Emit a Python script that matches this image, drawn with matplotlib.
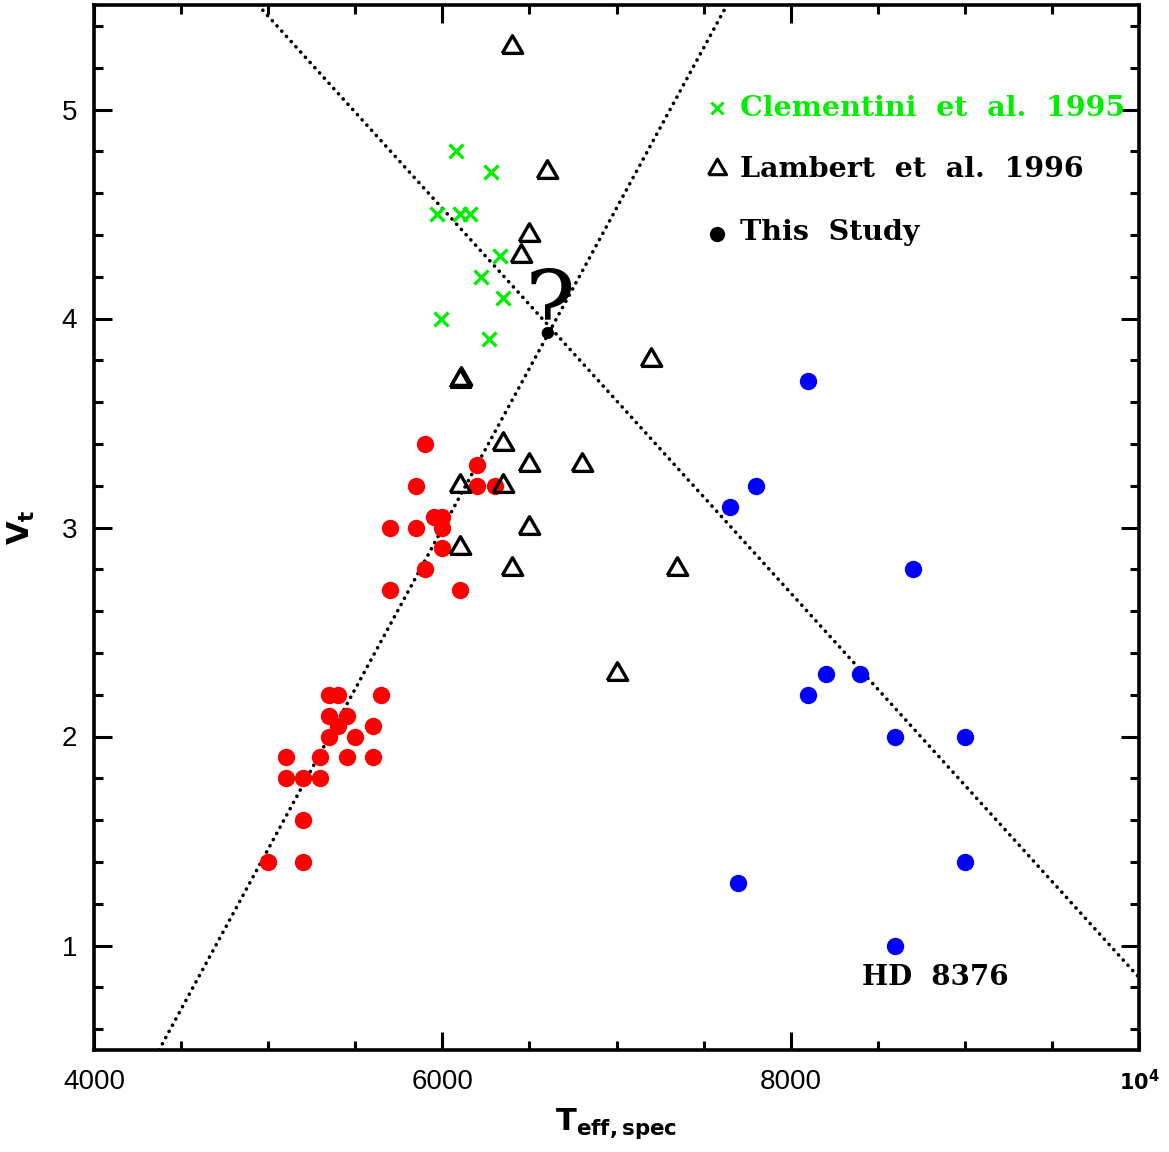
import numpy as np
import matplotlib
matplotlib.use('Agg')
import matplotlib.pyplot as plt
from matplotlib.ticker import MultipleLocator, FixedLocator

# Clementini et al. 1995 (green crosses)
clem_teff = [6080, 6280, 5970, 6100, 6160, 6330, 6220, 6350, 5990, 6270]
clem_vt = [4.8, 4.7, 4.5, 4.5, 4.5, 4.3, 4.2, 4.1, 4.0, 3.9]

# Lambert et al. 1996 (open triangles)
lamb_teff = [6400, 6600, 6500, 6450, 6100, 6110, 7200, 6350, 6500, 6800, 6350,
             6100, 6500, 6100, 6400, 7350, 7000]
lamb_vt = [5.3, 4.7, 4.4, 4.3, 3.7, 3.71, 3.8, 3.4, 3.3, 3.3, 3.2,
           3.2, 3.0, 2.9, 2.8, 2.8, 2.3]

# this study, cool stars (red)
red_teff = [5900, 6200, 5850, 6200, 6300, 5950, 6000, 5700, 5850, 6000, 6000,
            5900, 5700, 6100,
            5350, 5400, 5650, 5350, 5450, 5400, 5600, 5350, 5500,
            5100, 5300, 5450, 5600, 5100, 5200, 5300, 5200, 5000, 5200]
red_vt = [3.4, 3.3, 3.2, 3.2, 3.2, 3.05, 3.05, 3.0, 3.0, 3.0, 2.9,
          2.8, 2.7, 2.7,
          2.2, 2.2, 2.2, 2.1, 2.1, 2.05, 2.05, 2.0, 2.0,
          1.9, 1.9, 1.9, 1.9, 1.8, 1.8, 1.8, 1.6, 1.4, 1.4]

# this study, hot stars (blue)
blue_teff = [8100, 7800, 7650, 8700, 8200, 8400, 8100, 8600, 9000, 9000, 7700, 8600]
blue_vt = [3.7, 3.2, 3.1, 2.8, 2.3, 2.3, 2.2, 2.0, 2.0, 1.4, 1.3, 1.0]

# dotted trend lines (end points)
rise_teff = [4373, 7634]
rise_vt = [0.5, 5.5]
fall_teff = [4942, 10000]
fall_vt = [5.5, 0.847]

fig = plt.figure(figsize=(11.69, 11.52), dpi=100)
ax = fig.add_axes([94/1169, 1-1050/1152, 1045/1169, 1045/1152])

dots = (0, (0.05, 1.9))
ax.plot(rise_teff, rise_vt, color='black', lw=2.6, linestyle=dots,
        dash_capstyle='round', zorder=1)
ax.plot(fall_teff, fall_vt, color='black', lw=2.6, linestyle=dots,
        dash_capstyle='round', zorder=1)

tri = [(-1, -0.577), (1, -0.577), (0, 1.155), (-1, -0.577)]

ax.plot(red_teff, red_vt, 'o', color='#ff0000', ms=12.5, mew=0, zorder=2)
ax.plot(blue_teff, blue_vt, 'o', color='#0000ff', ms=12.5, mew=0, zorder=2)
ax.plot(lamb_teff, lamb_vt, linestyle='none', marker=tri, ms=17, mfc='none',
        mec='black', mew=2.4, zorder=3)
ax.plot(clem_teff, clem_vt, 'x', color='#00ee00', ms=10.5, mew=2.4, zorder=3)

ax.set_xlim(4000, 10000)
ax.set_ylim(0.5, 5.5)

# legend drawn by hand
serif = 'DejaVu Serif'
ax.plot([0.596], [0.901], 'x', color='#00ee00', ms=9, mew=2.2, transform=ax.transAxes)
ax.plot([0.596], [0.843], linestyle='none', marker=tri, ms=15, mfc='none', mec='black',
        mew=2.2, transform=ax.transAxes)
ax.plot([0.596], [0.781], 'o', color='black', ms=11, mew=0, transform=ax.transAxes)
ax.text(0.618, 0.901, 'Clementini  et  al.  1995', color='#00ee00', fontsize=20.5,
        family=serif, fontweight='bold', va='center', ha='left', transform=ax.transAxes)
ax.text(0.618, 0.843, 'Lambert  et  al.  1996', color='black', fontsize=20.5,
        family=serif, fontweight='bold', va='center', ha='left', transform=ax.transAxes)
ax.text(0.618, 0.782, 'This  Study', color='black', fontsize=20.5,
        family=serif, fontweight='bold', va='center', ha='left', transform=ax.transAxes)

ax.text(8409, 0.847, 'HD  8376', color='black', fontsize=20, family=serif,
        fontweight='bold', va='center', ha='left')
ax.text(6618, 4.03, '?', color='black', fontsize=68, family=serif,
        va='center', ha='center')

# ticks
ax.xaxis.set_major_locator(FixedLocator([4000, 6000, 8000, 10000]))
ax.xaxis.set_minor_locator(MultipleLocator(500))
ax.yaxis.set_major_locator(MultipleLocator(1))
ax.yaxis.set_minor_locator(MultipleLocator(0.2))
ax.set_xticklabels(['4000', '6000', '8000', ''])
ax.tick_params(which='both', direction='in', top=True, right=True, width=2.2,
               labelsize=20, colors='black')
ax.tick_params(which='major', length=13)
ax.tick_params(which='minor', length=6.5)
ax.tick_params(axis='x', pad=14)
ax.tick_params(axis='y', pad=12)
for lab in ax.get_xticklabels() + ax.get_yticklabels():
    lab.set_family('Liberation Sans')
for sp in ax.spines.values():
    sp.set_linewidth(2.6)

ax.text(10000, -0.030, r'$\mathbf{10^4}$', fontsize=15, ha='center', va='center',
        transform=ax.get_xaxis_transform())

ax.set_xlabel(r'$\mathbf{T_{eff,spec}}$', fontsize=22, labelpad=8)
ax.set_ylabel(r'$\mathbf{V_t}$', fontsize=22, labelpad=18)

fig.savefig('out.png', dpi=100)
